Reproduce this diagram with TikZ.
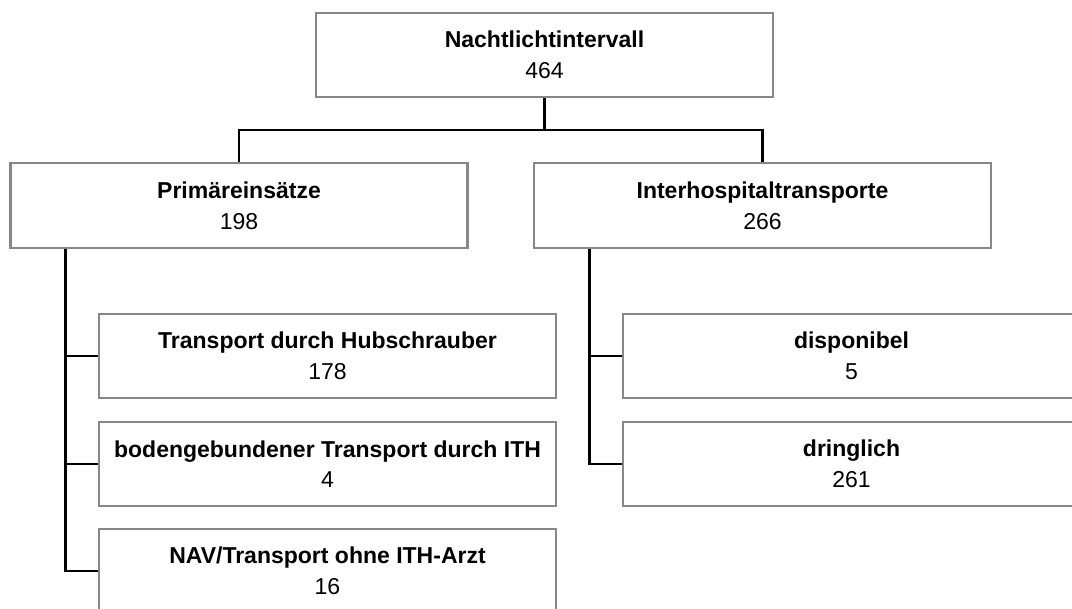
\documentclass[tikz,border=0pt]{standalone}
\usepackage{fontspec}
\setmainfont{Liberation Sans}
\begin{document}
\begin{tikzpicture}[x=1pt,y=-1pt,
  box/.style={draw=black!47, line width=2.6pt, fill=white, inner sep=0pt,
    minimum width=457pt, minimum height=84pt, align=center,
    font=\fontsize{23}{30.6}\selectfont},
  link/.style={draw=black, line width=2.6pt, line join=miter}]
\useasboundingbox (0,0) rectangle (1072,609);
\begin{scope}
\clip (0,0) rectangle (1072,609);
% root
\node[box] (root) at (544.5,55) {\textbf{Nachtlichtintervall}\\464};
% second level
\node[box, minimum height=85pt] (prim) at (239,205.5) {\textbf{Primäreinsätze}\\198};
\node[box, minimum height=85pt] (inter) at (762.5,205.5) {\textbf{Interhospitaltransporte}\\266};
% children of Primäreinsätze
\node[box] (hub) at (327.5,356) {\textbf{Transport durch Hubschrauber}\\178};
\node[box] (boden) at (327.5,464) {\textbf{bodengebundener Transport durch ITH}\\4};
\node[box] (nav) at (327.5,571) {\textbf{NAV/Transport ohne ITH-Arzt}\\16};
% children of Interhospitaltransporte
\node[box] (disp) at (851.5,356) {\textbf{disponibel}\\5};
\node[box] (dring) at (851.5,464) {\textbf{dringlich}\\261};
% connectors
\coordinate (bus) at (544.5,130);
\draw[link] (root.south) -- (bus);
\draw[link] (prim.north) |- (bus) -| (inter.north);
\draw[link] ([xshift=56pt]prim.south west) |- (hub.west);
\draw[link] ([xshift=56pt]prim.south west) |- (boden.west);
\draw[link] ([xshift=56pt]prim.south west) |- (nav.west);
\draw[link] ([xshift=56.5pt]inter.south west) |- (disp.west);
\draw[link] ([xshift=56.5pt]inter.south west) |- (dring.west);
\end{scope}
\end{tikzpicture}
\end{document}
